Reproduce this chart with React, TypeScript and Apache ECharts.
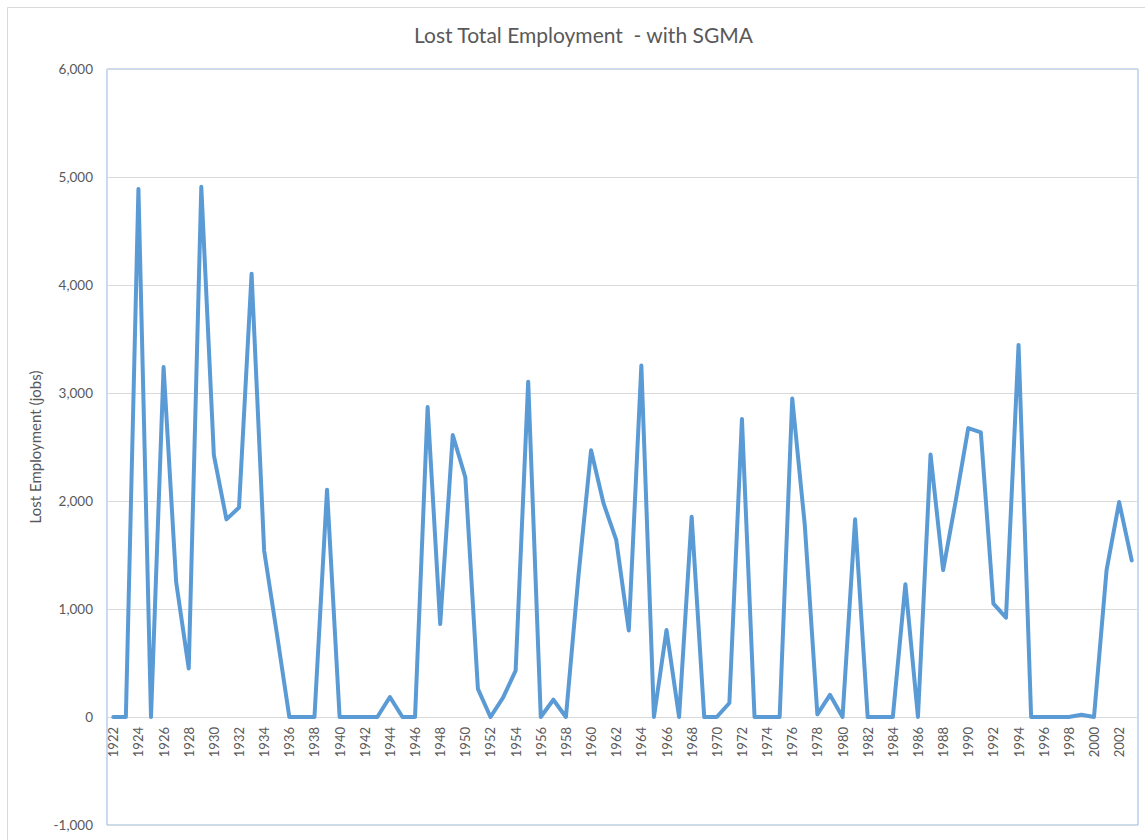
import React, { useEffect, useRef } from "react";
import * as echarts from "echarts";

const years: string[] = [];
for (let y = 1922; y <= 2003; y++) years.push(String(y));

const lostJobs: number[] = [
  0, 0, 4890, 0, 3240, 1250, 450, 4910, 2425, 1830, // 1922-1931
  1940, 4105, 1540, 780, 0, 0, 0, 2105, 0, 0, // 1932-1941
  0, 0, 185, 0, 0, 2870, 860, 2610, 2220, 260, // 1942-1951
  0, 180, 430, 3105, 0, 160, 0, 1310, 2470, 1975, // 1952-1961
  1640, 800, 3255, 0, 805, 0, 1855, 0, 0, 130, // 1962-1971
  2760, 0, 0, 0, 2950, 1775, 25, 205, 0, 1830, // 1972-1981
  0, 0, 0, 1230, 0, 2430, 1360, 2000, 2675, 2635, // 1982-1991
  1050, 920, 3445, 0, 0, 0, 0, 20, 0, 1360, // 1992-2001
  1990, 1450, // 2002-2003
];

const yTicks = { min: -1000, max: 6000, interval: 1000 };

const FONT = "Lato, 'Open Sans', sans-serif";

const GRID_TOP = 69;
const GRID_BOTTOM = 15;
const CHART_H = 840;

export default function App() {
  const ref = useRef<HTMLDivElement>(null);
  useEffect(() => {
    if (!ref.current) return;
    const chart = echarts.init(ref.current, null, { renderer: "svg" });
    const plotH = CHART_H - GRID_TOP - GRID_BOTTOM;
    const zeroOffset = (plotH * (0 - yTicks.min)) / (yTicks.max - yTicks.min);
    chart.setOption({
      animation: false,
      backgroundColor: "#ffffff",
      title: {
        text: "Lost Total Employment  - with SGMA",
        left: 409,
        top: 19,
        textStyle: { fontFamily: FONT, fontSize: 21, fontWeight: "normal", color: "#595959" },
      },
      graphic: [
        {
          type: "rect",
          shape: { x: 7.5, y: 7.5, width: 1150, height: 850 },
          style: { fill: "none", stroke: "#D9D9D9", lineWidth: 1 },
          silent: true,
        },
      ],
      grid: {
        left: 107,
        right: 7,
        top: GRID_TOP,
        bottom: GRID_BOTTOM,
        show: true,
        borderColor: "#92B7E4",
        borderWidth: 1,
        containLabel: false,
        outerBoundsMode: "none",
      },
      xAxis: {
        type: "category",
        data: years,
        boundaryGap: true,
        position: "bottom",
        offset: -zeroOffset,
        axisLine: { show: true, onZero: false, lineStyle: { color: "#D9D9D9", width: 1 } },
        axisTick: { show: false },
        axisLabel: {
          rotate: 90,
          interval: 1,
          margin: 10,
          fontFamily: FONT,
          fontSize: 13,
          color: "#595959",
        },
      },
      yAxis: {
        type: "value",
        min: yTicks.min,
        max: yTicks.max,
        interval: yTicks.interval,
        name: "Lost Employment (jobs)",
        nameLocation: "middle",
        nameGap: 54,
        nameTextStyle: { fontFamily: FONT, fontSize: 15, color: "#595959" },
        axisLine: { show: false },
        axisTick: { show: false },
        axisLabel: {
          margin: 14,
          fontFamily: FONT,
          fontSize: 13.5,
          color: "#595959",
          formatter: (v: number) => v.toLocaleString("en-US"),
        },
        splitLine: { lineStyle: { color: "#D9D9D9", width: 1 } },
      },
      series: [
        {
          type: "line",
          data: lostJobs,
          symbol: "none",
          lineStyle: { color: "#5B9BD5", width: 4, join: "round", cap: "round" },
        },
      ],
    });
    return () => chart.dispose();
  }, []);
  return (
    <div
      ref={ref}
      style={{ position: "fixed", left: 0, top: 0, width: 1145, height: 840 }}
    />
  );
}
